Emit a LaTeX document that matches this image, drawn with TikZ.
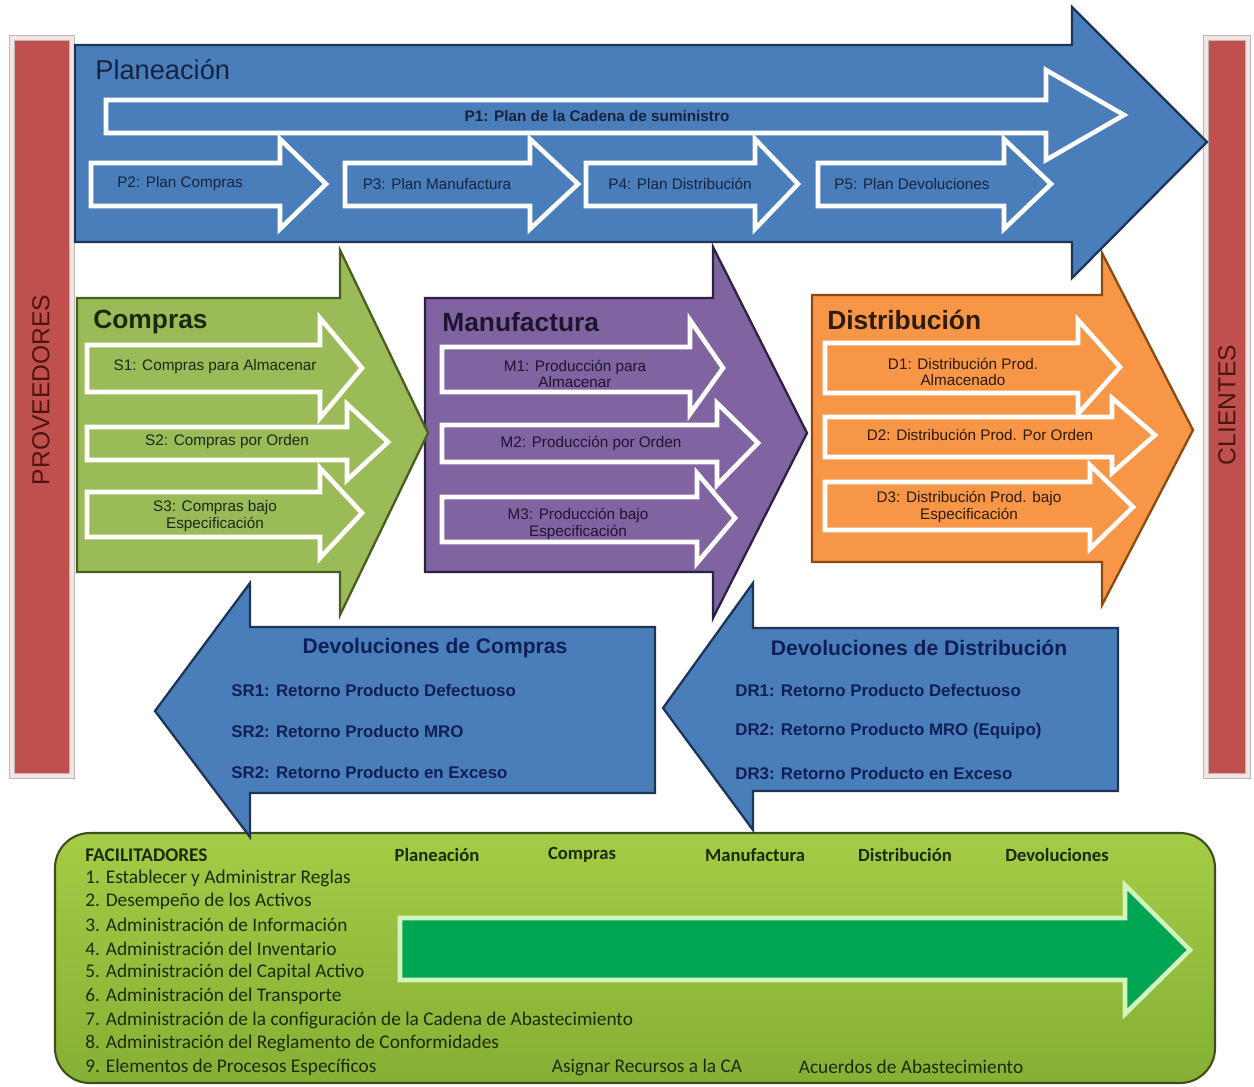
\documentclass[tikz,border=0pt]{standalone}
\usepackage{fontspec}
\setmainfont{Liberation Sans}
\newfontfamily\calfont{Carlito}

\definecolor{planblue}{HTML}{4A7EBB}
\definecolor{planedge}{HTML}{1D3557}
\definecolor{plantext}{HTML}{16233F}
\definecolor{compgreen}{HTML}{9BBB59}
\definecolor{compedge}{HTML}{4A5E22}
\definecolor{comptext}{HTML}{1C2910}
\definecolor{manupurple}{HTML}{8064A2}
\definecolor{manuedge}{HTML}{2F2142}
\definecolor{manutext}{HTML}{1E1430}
\definecolor{distorange}{HTML}{F79646}
\definecolor{distedge}{HTML}{8A4A12}
\definecolor{disttext}{HTML}{2E1B08}
\definecolor{barred}{HTML}{C0504D}
\definecolor{barframe}{HTML}{F6E4E3}
\definecolor{bartext}{HTML}{4E1412}
\definecolor{factop}{HTML}{A4CC46}
\definecolor{facbottom}{HTML}{86B034}
\definecolor{facedge}{HTML}{3E4E1C}
\definecolor{factext}{HTML}{1D2A0C}
\definecolor{bandgreen}{HTML}{00A651}
\definecolor{bandedge}{HTML}{D2F5C0}
\definecolor{devtext}{HTML}{0F1F55}

\tikzset{
  big/.style={line width=1.3pt, line join=miter},
  plan/.style={big, fill=planblue, draw=planedge},
  comp/.style={big, fill=compgreen, draw=compedge},
  manu/.style={big, fill=manupurple, draw=manuedge},
  dist/.style={big, fill=distorange, draw=distedge},
  inner/.style={line width=2.6pt, line join=miter},
  lbl/.style={font=\fontsize{8.7}{9.5}\selectfont, align=center, inner sep=0pt},
  title/.style={font=\fontsize{15}{17}\selectfont\bfseries, anchor=west, inner sep=0pt},
  devline/.style={font=\fontsize{9.6}{11}\selectfont\bfseries, text=devtext, anchor=west, inner sep=0pt},
  devtitle/.style={font=\fontsize{12}{14}\selectfont\bfseries, text=devtext, inner sep=0pt},
  bar/.style={fill=barred, draw=gray!55, double=barframe, double distance=2.5pt},
  bartitle/.style={font=\fontsize{14}{16}\selectfont, text=bartext, rotate=90, inner sep=0pt},
  facline/.style={font=\calfont\fontsize{11}{13}\selectfont, text=factext, anchor=west, inner sep=0pt},
  fachead/.style={font=\calfont\fontsize{10.6}{12}\selectfont\bfseries, text=factext, inner sep=0pt},
}

\begin{document}
\begin{tikzpicture}[x=0.02cm, y=-0.02cm]

\useasboundingbox (0,0) rectangle (1254,1086);
\fill[white] (0,0) rectangle (1254,1086);

% proveedores / clientes
\draw[bar] (12,38) rectangle (72,776);
\draw[bar] (1206,38) rectangle (1248,776);
\node[bartitle] (prov) at (41,390) {PROVEEDORES};
\node[bartitle] (clie) at (1227,405) {CLIENTES};

% facilitadores
\draw[draw=facedge, line width=1.2pt, top color=factop, bottom color=facbottom, rounded corners=0.7cm]
  (55,833) rectangle (1215,1083);
\draw[inner, draw=bandedge, fill=bandgreen]
  (400,918) -- (1125,918) -- (1125,885) -- (1190,950) -- (1125,1014) -- (1125,980) -- (400,980) -- cycle;

\node[fachead, anchor=west, font=\calfont\fontsize{11}{13}\selectfont\bfseries] (fachd) at (85,855) {FACILITADORES};
\node[fachead] (fplan) at (437,855) {Planeación};
\node[fachead] (fcomp) at (582,855) {Compras};
\node[fachead] (fmanu) at (755,855) {Manufactura};
\node[fachead] (fdist) at (905,855) {Distribución};
\node[fachead] (fdev) at (1057,855) {Devoluciones};

\node[facline] (fone) at (85,878) {1. Establecer y Administrar Reglas};
\node[facline] (ftwo) at (85,901) {2. Desempeño de los Activos};
\node[facline] (fthree) at (85,925) {3. Administración de  Información};
\node[facline] (ffour) at (85,949) {4. Administración del Inventario};
\node[facline] (ffive) at (85,972) {5. Administración del Capital Activo};
\node[facline] (fsix) at (85,996) {6. Administración del Transporte};
\node[facline] (fseven) at (85,1020) {7. Administración de la configuración  de la Cadena de Abastecimiento};
\node[facline] (feight) at (85,1043) {8. Administración del Reglamento de Conformidades};
\node[facline] (fnine) at (85,1067) {9. Elementos de Procesos Específicos};
\node[facline, anchor=center] (fcaa) at (647,1067) {Asignar Recursos a la CA};
\node[facline, anchor=center] (facu) at (911,1067) {Acuerdos de Abastecimiento};

% devoluciones
\draw[plan] (655,627) -- (250,627) -- (250,583) -- (155,711) -- (250,837) -- (250,793) -- (655,793) -- cycle;
\draw[plan] (1118,628) -- (753,628) -- (753,583) -- (663,708) -- (753,830) -- (753,791) -- (1118,791) -- cycle;

\node[devtitle] (dctitle) at (435,648) {Devoluciones  de Compras};
\node[devline] (srone) at (231,690) {SR1: Retorno Producto Defectuoso};
\node[devline] (srtwo) at (231,731) {SR2: Retorno Producto MRO};
\node[devline] (srthree) at (231,772) {SR2: Retorno Producto en Exceso};

\node[devtitle] (ddtitle) at (919,648) {Devoluciones  de Distribución};
\node[devline] (drone) at (735,690) {DR1: Retorno Producto Defectuoso};
\node[devline] (drtwo) at (735,731) {DR2: Retorno Producto MRO (Equipo)};
\node[devline] (drthree) at (735,773) {DR3: Retorno Producto en Exceso};

% distribucion
\draw[dist] (812,295) -- (1102,295) -- (1102,253) -- (1193,430) -- (1102,605) -- (1102,562) -- (812,562) -- cycle;
\draw[inner, draw=white, fill=distorange] (825,343) -- (1078,343) -- (1078,320) -- (1120,367) -- (1078,414) -- (1078,393) -- (825,393) -- cycle;
\draw[inner, draw=white, fill=distorange] (825,417) -- (1112,417) -- (1112,398) -- (1155,435) -- (1112,473) -- (1112,457) -- (825,457) -- cycle;
\draw[inner, draw=white, fill=distorange] (825,482) -- (1090,482) -- (1090,465) -- (1133,507) -- (1090,549) -- (1090,530) -- (825,530) -- cycle;
\node[title, text=disttext] (disttitle) at (827,320) {Distribución};
\node[lbl, text=disttext] (done) at (963,372) {D1: Distribución Prod.\\Almacenado};
\node[lbl, text=disttext] (dtwo) at (980,435) {D2: Distribución Prod. Por Orden};
\node[lbl, text=disttext] (dthree) at (969,507) {D3: Distribución Prod. bajo\\Especificación};

% manufactura
\draw[manu] (425,298) -- (713,298) -- (713,247) -- (807,433) -- (713,618) -- (713,572) -- (425,572) -- cycle;
\draw[inner, draw=white, fill=manupurple] (442,347) -- (690,347) -- (690,320) -- (723,368) -- (690,414) -- (690,392) -- (442,392) -- cycle;
\draw[inner, draw=white, fill=manupurple] (442,425) -- (717,425) -- (717,403) -- (758,443) -- (717,485) -- (717,462) -- (442,462) -- cycle;
\draw[inner, draw=white, fill=manupurple] (442,497) -- (697,497) -- (697,473) -- (735,518) -- (697,563) -- (697,542) -- (442,542) -- cycle;
\node[title, text=manutext] (manutitle) at (442,322) {Manufactura};
\node[lbl, text=manutext] (mone) at (575,374) {M1: Producción para\\Almacenar};
\node[lbl, text=manutext] (mtwo) at (591,443) {M2: Producción por Orden};
\node[lbl, text=manutext] (mthree) at (578,524) {M3: Producción bajo\\Especificación};

% compras
\draw[comp] (77,298) -- (340,298) -- (340,250) -- (428,433) -- (340,615) -- (340,572) -- (77,572) -- cycle;
\draw[inner, draw=white, fill=compgreen] (87,345) -- (320,345) -- (320,318) -- (362,368) -- (320,418) -- (320,392) -- (87,392) -- cycle;
\draw[inner, draw=white, fill=compgreen] (87,427) -- (347,427) -- (347,404) -- (388,442) -- (347,480) -- (347,460) -- (87,460) -- cycle;
\draw[inner, draw=white, fill=compgreen] (87,492) -- (320,492) -- (320,468) -- (362,513) -- (320,558) -- (320,537) -- (87,537) -- cycle;
\node[title, text=comptext] (comptitle) at (93,322) {Compras};
\node[lbl, text=comptext] (sone) at (215,367) {S1: Compras para Almacenar};
\node[lbl, text=comptext] (stwo) at (227,442) {S2: Compras por Orden};
\node[lbl, text=comptext] (sthree) at (215,516) {S3: Compras bajo\\Especificación};

% planeacion
\draw[plan] (75,45) -- (1072,45) -- (1072,7) -- (1207,142) -- (1072,278) -- (1072,242) -- (75,242) -- cycle;
\draw[inner, draw=white, fill=planblue] (106,100) -- (1046,100) -- (1046,70) -- (1124,115) -- (1046,160) -- (1046,133) -- (106,133) -- cycle;
\draw[inner, draw=white, fill=planblue] (91,163) -- (280,163) -- (280,139) -- (326,184) -- (280,229) -- (280,206) -- (91,206) -- cycle;
\draw[inner, draw=white, fill=planblue] (345,163) -- (530,163) -- (530,139) -- (578,184) -- (530,229) -- (530,206) -- (345,206) -- cycle;
\draw[inner, draw=white, fill=planblue] (586,163) -- (755,163) -- (755,139) -- (798,184) -- (755,229) -- (755,206) -- (586,206) -- cycle;
\draw[inner, draw=white, fill=planblue] (818,163) -- (1004,163) -- (1004,139) -- (1051,184) -- (1004,229) -- (1004,206) -- (818,206) -- cycle;
\node[title, text=plantext, font=\fontsize{15.5}{17}\selectfont] (plantitle) at (95,70) {Planeación};
\node[lbl, text=plantext, font=\fontsize{8.7}{9.5}\selectfont\bfseries] (pone) at (597,116) {P1: Plan de la Cadena de suministro};
\node[lbl, text=plantext] (ptwo) at (180,184) {P2: Plan  Compras};
\node[lbl, text=plantext] (pthree) at (437,184) {P3: Plan Manufactura};
\node[lbl, text=plantext] (pfour) at (680,184) {P4: Plan Distribución};
\node[lbl, text=plantext] (pfive) at (912,184) {P5: Plan Devoluciones};

\end{tikzpicture}
\end{document}
